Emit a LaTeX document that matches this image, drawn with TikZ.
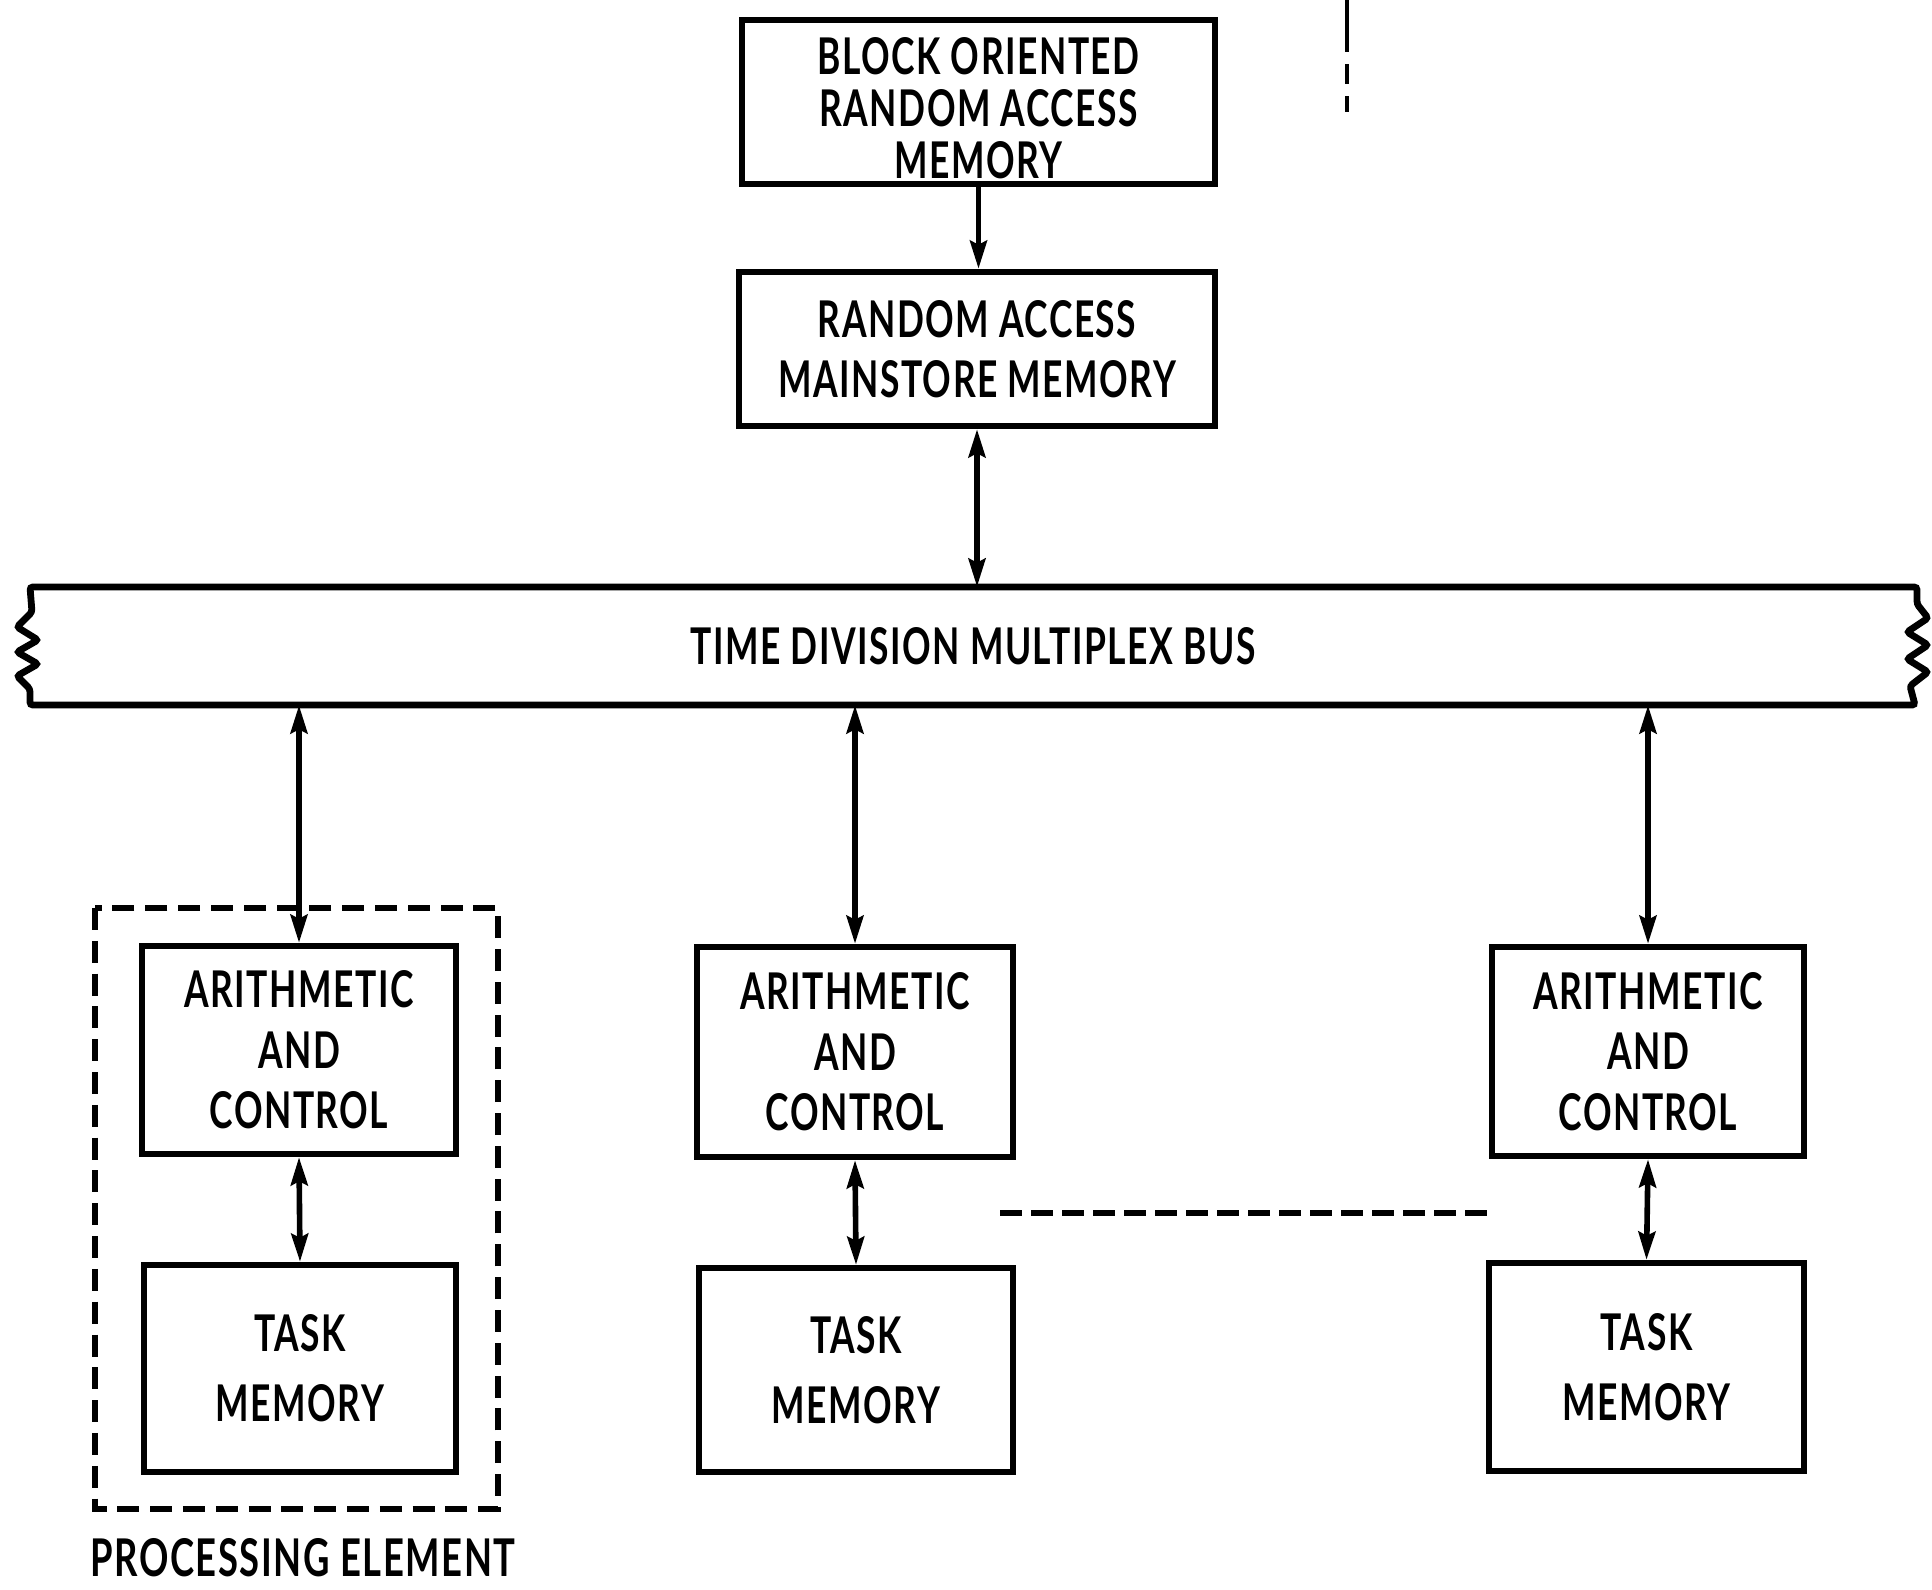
\documentclass[tikz,border=0pt]{standalone}
\usepackage{fontspec}
\setmainfont[FakeStretch=0.7,LetterSpace=3]{Lato}
\usetikzlibrary{arrows.meta}
\begin{document}
\begin{tikzpicture}[x=0.025cm,y=-0.025cm,
  box/.style 2 args={draw, line width=0.16cm, inner sep=0pt, align=center,
    minimum width=#1*0.025cm, minimum height=#2*0.025cm,
    font=\fontsize{36}{43}\selectfont\bfseries},
  conn/.style={line width=0.14cm, {Stealth[length=0.7cm,width=0.42cm,inset=0.1cm]}-{Stealth[length=0.7cm,width=0.42cm,inset=0.1cm]}},
  oneway/.style={line width=0.14cm, -{Stealth[length=0.7cm,width=0.42cm,inset=0.1cm]}},
  pedash/.style={line width=0.15cm, dash pattern=on 0.55cm off 0.27cm},
  sepdash/.style={line width=0.14cm, dash pattern=on 0.55cm off 0.225cm},
  lbl/.style={inner sep=0pt, font=\fontsize{37}{44}\selectfont\bfseries}]
\useasboundingbox (0,0) rectangle (1932,1590);

% top memories
\node[box={473}{164}] (boram) at (978.5,102) {};
\node[inner sep=0pt, align=center, font=\fontsize{36}{37}\selectfont\bfseries] (boramtext) at (978.5,108) {BLOCK ORIENTED\\RANDOM ACCESS\\MEMORY};
\node[box={476}{154}] (ram) at (977,349) {RANDOM ACCESS\\MAINSTORE MEMORY};

% bus
\node[inner sep=0pt, minimum width=1886*0.025cm, minimum height=118*0.025cm,
      font=\fontsize{36}{43}\selectfont\bfseries] (bus) at (973,646) {TIME DIVISION MULTIPLEX BUS};
\draw[line width=0.17cm, rounded corners=2pt]
  (30,587) -- (1917,587) -- (1917,604) -- (1928,618) -- (1907,632) -- (1928,645)
  -- (1907,659) -- (1928,672) -- (1910,686) -- (1915,705) -- (30,705)
  -- (30,689) -- (17,676) -- (38,664) -- (17,652) -- (38,640) -- (17,627)
  -- (32,612) -- cycle;

% processing elements
\node[box={314}{208}] (ac1) at (299,1050) {ARITHMETIC\\AND\\CONTROL};
\node[box={312}{207}, font=\fontsize{36}{50}\selectfont\bfseries] (tm1) at (300,1368.5) {TASK\\MEMORY};
\node[box={316}{210}] (ac2) at (855,1052) {ARITHMETIC\\AND\\CONTROL};
\node[box={314}{204}, font=\fontsize{36}{50}\selectfont\bfseries] (tm2) at (856,1370) {TASK\\MEMORY};
\node[box={312}{209}] (ac3) at (1648,1051.5) {ARITHMETIC\\AND\\CONTROL};
\node[box={315}{208}, font=\fontsize{36}{50}\selectfont\bfseries] (tm3) at (1646.5,1367) {TASK\\MEMORY};

% processing element frame
\coordinate (pe1) at (95,908);
\coordinate (pe2) at (498,1509);
\draw[pedash] (pe1) rectangle (pe2);
\node[lbl] (pelabel) at (303,1558) {PROCESSING ELEMENT};

% connectors
\draw[oneway] (boram.south) -- (boram.south |- ram.north);
\draw[conn] (ram.south) -- (bus.north -| ram.south);
\draw[conn] (bus.south -| ac1.north) -- (ac1.north);
\draw[conn] (bus.south -| ac2.north) -- (ac2.north);
\draw[conn] (bus.south -| ac3.north) -- (ac3.north);
\draw[conn] (ac1.south) -- (tm1.north);
\draw[conn] (ac2.south) -- (tm2.north);
\draw[conn] (ac3.south) -- (tm3.north);

% continuation dashes
\coordinate (d1) at (1000,1213);
\coordinate (d2) at (1487,1213);
\draw[sepdash] (d1) -- (d2);

% stray mark at top
\coordinate (s1) at (1347,0);
\coordinate (s2) at (1347,112);
\draw[line width=0.09cm, dash pattern=on 1.3cm off 0.3cm on 0.5cm off 0.3cm] (s1) -- (s2);
\end{tikzpicture}
\end{document}
